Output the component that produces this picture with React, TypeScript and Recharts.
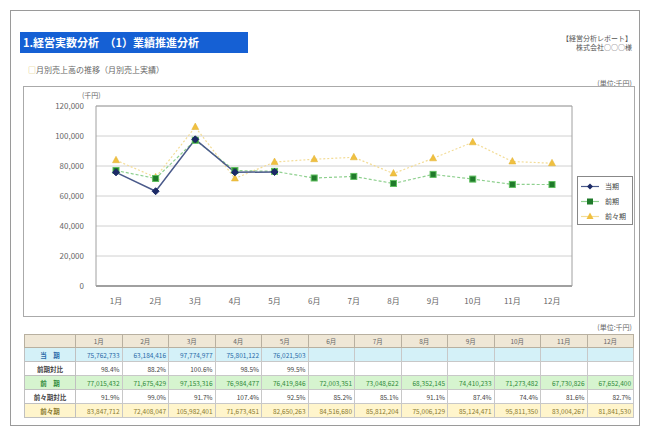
import React from "react";
import { LineChart, Line, XAxis, YAxis, CartesianGrid } from "recharts";

const months = ["1月", "2月", "3月", "4月", "5月", "6月", "7月", "8月", "9月", "10月", "11月", "12月"];

// 売上 (円)
const salesCurrent: (number | null)[] = [75762733, 63184416, 97774977, 75801122, 76021503, null, null, null, null, null, null, null];
const salesPrev = [77015432, 71675429, 97153316, 76984477, 76419846, 72003351, 73048622, 68352145, 74410233, 71273482, 67730826, 67652400];
const salesPrev2 = [83847712, 72408047, 105982401, 71673451, 82650263, 84516680, 85812204, 75006129, 85124471, 95811350, 83004267, 81841530];

const yTicks = [0, 20000, 40000, 60000, 80000, 100000, 120000];

const seriesNames = ["当期", "前期", "前々期"];

const data = months.map((m, i) => ({
  month: m,
  current: salesCurrent[i] == null ? null : (salesCurrent[i] as number) / 1000,
  prev: salesPrev[i] / 1000,
  prev2: salesPrev2[i] / 1000,
}));

const NAVY = "#1c2a66";
const GREEN = "#1f7a2a";
const GOLD = "#f0c040";
const FRAME = "#a0a0a0";

const font = "'Noto Sans CJK JP', 'Noto Sans', sans-serif";

const Diamond = (p: any) => {
  if (p.cx == null || p.cy == null || p.value == null) return null;
  const { cx, cy } = p;
  return <path d={`M${cx},${cy - 3.5}L${cx + 3.5},${cy}L${cx},${cy + 3.5}L${cx - 3.5},${cy}Z`} fill={NAVY} stroke={NAVY} />;
};
const Square = (p: any) => {
  if (p.cx == null || p.cy == null) return null;
  return <rect x={p.cx - 3} y={p.cy - 3} width={6} height={6} fill={GREEN} stroke="#5fbf5f" strokeWidth={1} />;
};
const Triangle = (p: any) => {
  if (p.cx == null || p.cy == null) return null;
  const { cx, cy } = p;
  return <path d={`M${cx},${cy - 4}L${cx + 3.5},${cy + 2.5}L${cx - 3.5},${cy + 2.5}Z`} fill={GOLD} stroke="#e0b030" strokeWidth={0.5} />;
};

const fmt = (v: number | null) => (v == null ? "" : v.toLocaleString("ja-JP"));
const pct = (a: number | null, b: number | null) => (a == null || b == null ? "" : ((a / b) * 100).toFixed(1) + "%");

const rows = [
  { label: "当　期", bg: "#d4f1f8", color: "#2a6aa8", labelColor: "#2a6aa8", cells: salesCurrent.map(fmt) },
  { label: "前期対比", bg: "#ffffff", color: "#444", labelColor: "#444", cells: salesCurrent.map((v, i) => pct(v, salesPrev[i])) },
  { label: "前　期", bg: "#d6f4cf", color: "#2f8a3a", labelColor: "#2f8a3a", cells: salesPrev.map(fmt) },
  { label: "前々期対比", bg: "#ffffff", color: "#444", labelColor: "#444", cells: salesPrev.map((v, i) => pct(v, salesPrev2[i])) },
  { label: "前々期", bg: "#fff5cc", color: "#8a7a30", labelColor: "#8a7a30", cells: salesPrev2.map(fmt) },
];

const abs = (l: number, t: number, extra: React.CSSProperties = {}): React.CSSProperties => ({
  position: "absolute",
  left: l,
  top: t,
  ...extra,
});

export default function App() {
  return (
    <div style={{ position: "absolute", left: 0, top: 0, width: 648, height: 430, background: "#fff", fontFamily: font, color: "#555" }}>
      <div style={abs(10, 10, { width: 630, height: 416, border: "1px solid #9a9a9a", boxSizing: "border-box" })} />

      <div style={abs(20, 32, { width: 228, height: 21, background: "#1560d4", color: "#fff", fontSize: 11, fontWeight: 700, lineHeight: "21px", paddingLeft: 3, boxSizing: "border-box", whiteSpace: "nowrap" })}>
        1.経営実数分析　（1）業績推進分析
      </div>

      <div style={abs(430, 34, { width: 202, textAlign: "right", fontSize: 7, lineHeight: "9px", color: "#555" })}>
        【経営分析レポート】<br />株式会社○○○様
      </div>

      <div style={abs(28, 64, { fontSize: 8, color: "#666", whiteSpace: "nowrap" })}>
        <span style={{ color: "#d8c060" }}>□</span>月別売上高の推移（月別売上実績）
      </div>

      <div style={abs(540, 78, { width: 92, textAlign: "right", fontSize: 7, color: "#666" })}>(単位:千円)</div>

      <div style={abs(23, 86, { width: 612, height: 231, border: "1px solid #aaa", boxSizing: "border-box", background: "#fff" })}>
        <div style={abs(58, 3, { fontSize: 7, color: "#666" })}>(千円)</div>
        <LineChart width={610} height={229} data={data} margin={{ top: 18, right: 61, bottom: 0, left: 12 }} style={{ fontFamily: font }}>
          <CartesianGrid vertical={false} stroke="#d0d0d0" />
          <XAxis xAxisId="top" orientation="top" dataKey="month" padding={{ left: 20, right: 20 }} tick={false} tickLine={false} axisLine={{ stroke: FRAME }} height={1} />
          <XAxis dataKey="month" padding={{ left: 20, right: 20 }} tick={{ fontSize: 8, fill: "#666" }} tickLine={false} axisLine={{ stroke: "#888", strokeWidth: 1.5 }} height={30} tickMargin={6} />
          <YAxis domain={[0, 120000]} ticks={yTicks} tickFormatter={(v: number) => v.toLocaleString("ja-JP")} tick={{ fontSize: 8, fill: "#666" }} tickLine={false} axisLine={{ stroke: FRAME }} width={60} tickMargin={6} />
          <YAxis yAxisId="right" orientation="right" domain={[0, 120000]} tick={false} tickLine={false} axisLine={{ stroke: FRAME }} width={1} />
          <Line dataKey="prev2" name={seriesNames[2]} stroke="#f3dc96" strokeWidth={1.2} strokeDasharray="2 2" dot={<Triangle />} isAnimationActive={false} />
          <Line dataKey="prev" name={seriesNames[1]} stroke="#8fd08f" strokeWidth={1.2} strokeDasharray="3 2" dot={<Square />} isAnimationActive={false} />
          <Line dataKey="current" name={seriesNames[0]} stroke="#4a5a8a" strokeWidth={1.5} dot={<Diamond />} connectNulls={false} isAnimationActive={false} />
        </LineChart>
        <div style={abs(553, 89, { width: 56, height: 49, border: "1px solid #888", background: "#fff", boxSizing: "border-box", fontSize: 7, color: "#444" })}>
          {[
            { name: seriesNames[0], stroke: "#4a5a8a", mark: <path d="M9,1.5L12,4.5L9,7.5L6,4.5Z" fill={NAVY} /> },
            { name: seriesNames[1], stroke: "#8fd08f", mark: <rect x={6} y={1.5} width={6} height={6} fill={GREEN} /> },
            { name: seriesNames[2], stroke: "#f3dc96", mark: <path d="M9,0.5L12.5,7L5.5,7Z" fill={GOLD} /> },
          ].map((s, i) => (
            <div key={i} style={abs(3, 4 + i * 15, { display: "flex", alignItems: "center", whiteSpace: "nowrap" })}>
              <svg width={19} height={9}>
                <line x1={0} y1={4.5} x2={18} y2={4.5} stroke={s.stroke} strokeWidth={1.2} />
                {s.mark}
              </svg>
              <span style={{ marginLeft: 5 }}>{s.name}</span>
            </div>
          ))}
        </div>
      </div>

      <div style={abs(540, 322, { width: 92, textAlign: "right", fontSize: 7, color: "#666" })}>(単位:千円)</div>

      <table style={{ ...abs(24, 334), width: 609, borderCollapse: "collapse", tableLayout: "fixed", fontSize: 6.5, fontFamily: font }}>
        <colgroup>
          <col style={{ width: 51 }} />
          {months.map((m) => (
            <col key={m} style={{ width: 46.5 }} />
          ))}
        </colgroup>
        <thead>
          <tr style={{ background: "#efe7d6", height: 13 }}>
            <th style={{ border: "1px solid #b8b0a0" }} />
            {months.map((m) => (
              <th key={m} style={{ border: "1px solid #b8b0a0", fontWeight: 400, color: "#666", padding: 0 }}>{m}</th>
            ))}
          </tr>
        </thead>
        <tbody>
          {rows.map((r, ri) => (
            <tr key={ri} style={{ background: r.bg, height: 14 }}>
              <td style={{ border: "1px solid #c0c0c0", textAlign: "center", color: r.labelColor, fontWeight: 700, padding: 0, whiteSpace: "nowrap" }}>{r.label}</td>
              {r.cells.map((c, ci) => (
                <td key={ci} style={{ border: "1px solid #c8c8c8", textAlign: "right", color: r.color, padding: "0 2px", whiteSpace: "nowrap", overflow: "hidden" }}>{c}</td>
              ))}
            </tr>
          ))}
        </tbody>
      </table>
    </div>
  );
}
